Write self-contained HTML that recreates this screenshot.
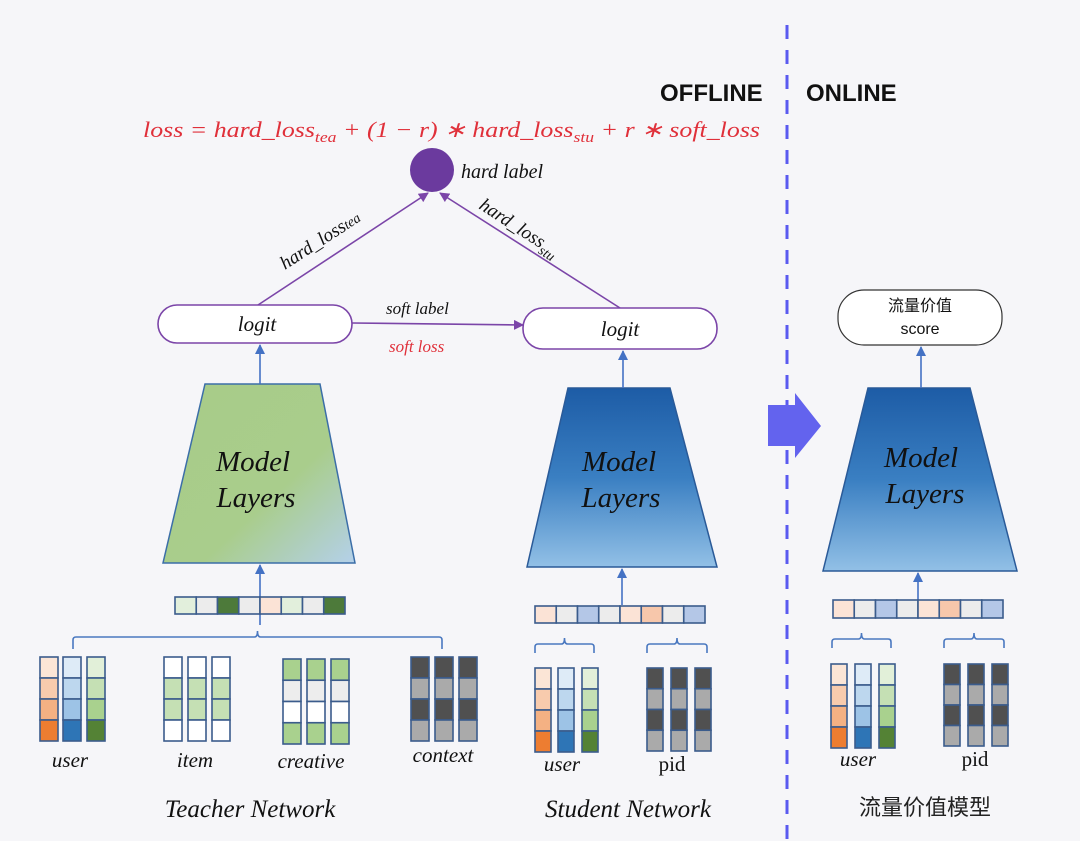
<!DOCTYPE html>
<html><head><meta charset="utf-8"><style>
html,body{margin:0;padding:0;background:#f6f6f9;}
svg{display:block}
.m{font-family:"Liberation Serif",serif;font-style:italic;}
</style></head><body>
<svg id="s" width="1080" height="841" viewBox="0 0 1080 841" xmlns="http://www.w3.org/2000/svg">
<defs>
<linearGradient id="gT" x1="0" y1="0" x2="1" y2="1">
<stop offset="0" stop-color="#a8cc88"/><stop offset="0.6" stop-color="#a9cd8c"/><stop offset="1" stop-color="#b4d0ea"/></linearGradient>
<linearGradient id="gS" x1="0" y1="0" x2="0" y2="1">
<stop offset="0" stop-color="#1d5ca6"/><stop offset="0.5" stop-color="#3a7fc2"/><stop offset="1" stop-color="#92c0e6"/></linearGradient>
<marker id="ap" markerWidth="10" markerHeight="10" refX="9" refY="5" orient="auto" markerUnits="userSpaceOnUse"><path d="M0,0 L10,5 L0,10 z" fill="#7b45a8"/></marker>
<marker id="ab" markerWidth="10" markerHeight="10" refX="9" refY="5" orient="auto" markerUnits="userSpaceOnUse"><path d="M0,0 L10,5 L0,10 z" fill="#4472c4"/></marker>
</defs>
<rect width="1080" height="841" fill="#f6f6f9"/>
<line x1="787" y1="25" x2="787" y2="841" stroke="#5a5af0" stroke-width="3" stroke-dasharray="14,11"/>
<text x="660" y="101" font-family="Liberation Sans,sans-serif" font-weight="bold" font-size="24" fill="#111">OFFLINE</text>
<text x="806" y="101" font-family="Liberation Sans,sans-serif" font-weight="bold" font-size="24" fill="#111">ONLINE</text>
<text class="m" x="143" y="137" font-size="22" fill="#e0303a" textLength="617" lengthAdjust="spacingAndGlyphs">loss = hard_loss<tspan font-size="15" dy="5">tea</tspan><tspan dy="-5"> + (1 − r) ∗ hard_loss</tspan><tspan font-size="15" dy="5">stu</tspan><tspan dy="-5"> + r ∗ soft_loss</tspan></text>
<circle cx="432" cy="170" r="22" fill="#6b3a9e"/>
<text class="m" x="461" y="178" font-size="20" fill="#111">hard label</text>
<line x1="258" y1="305" x2="428" y2="193" stroke="#7b45a8" stroke-width="1.6" marker-end="url(#ap)"/>
<line x1="620" y1="308" x2="440" y2="193" stroke="#7b45a8" stroke-width="1.6" marker-end="url(#ap)"/>
<text class="m" font-size="19" fill="#111" transform="translate(285,270) rotate(-33)">hard_loss<tspan font-size="14">tea</tspan></text>
<text class="m" font-size="19" fill="#111" transform="translate(478,208) rotate(33)">hard_loss<tspan font-size="14" dy="5">stu</tspan></text>
<rect x="158" y="305" width="194" height="38" rx="19" fill="#fff" stroke="#7b45a8" stroke-width="1.6"/>
<text class="m" x="257" y="331" font-size="21" text-anchor="middle" fill="#111">logit</text>
<rect x="523" y="308" width="194" height="41" rx="20" fill="#fff" stroke="#7b45a8" stroke-width="1.6"/>
<text class="m" x="620" y="336" font-size="21" text-anchor="middle" fill="#111">logit</text>
<line x1="352" y1="323" x2="523" y2="325" stroke="#7b45a8" stroke-width="1.6" marker-end="url(#ap)"/>
<text class="m" x="386" y="314" font-size="17" fill="#111">soft label</text>
<text class="m" x="389" y="352" font-size="17" fill="#e0303a">soft loss</text>
<rect x="838" y="290" width="164" height="55" rx="26" fill="#fff" stroke="#333" stroke-width="1.2"/>
<text x="920" y="311" font-family="Liberation Sans,'Noto Sans CJK SC',sans-serif" font-size="16" text-anchor="middle" fill="#111">流量价值</text>
<text x="920" y="334" font-family="Liberation Sans,sans-serif" font-size="16" text-anchor="middle" fill="#111">score</text>
<path d="M205,384 L320,384 L355,563 L163,563 Z" fill="url(#gT)" stroke="#3b6ea8" stroke-width="1.5"/>
<path d="M568,388 L670,388 L717,567 L527,567 Z" fill="url(#gS)" stroke="#2a5a98" stroke-width="1.5"/>
<path d="M868,388 L970,388 L1017,571 L823,571 Z" fill="url(#gS)" stroke="#2a5a98" stroke-width="1.5"/>
<g class="m" font-size="29" fill="#111" text-anchor="middle">
<text x="253" y="471">Model</text><text x="256" y="507">Layers</text>
<text x="619" y="471">Model</text><text x="621" y="507">Layers</text>
<text x="921" y="467">Model</text><text x="925" y="503">Layers</text>
</g>
<line x1="260" y1="384" x2="260" y2="345" stroke="#4472c4" stroke-width="1.6" marker-end="url(#ab)"/>
<line x1="623" y1="388" x2="623" y2="351" stroke="#4472c4" stroke-width="1.6" marker-end="url(#ab)"/>
<line x1="921" y1="388" x2="921" y2="347" stroke="#4472c4" stroke-width="1.6" marker-end="url(#ab)"/>
<line x1="260" y1="625" x2="260" y2="565" stroke="#4472c4" stroke-width="1.6" marker-end="url(#ab)"/>
<line x1="622" y1="605" x2="622" y2="569" stroke="#4472c4" stroke-width="1.6" marker-end="url(#ab)"/>
<line x1="918" y1="600" x2="918" y2="573" stroke="#4472c4" stroke-width="1.6" marker-end="url(#ab)"/>
<path d="M768,405 L795,405 L795,393 L821,426 L795,458 L795,446 L768,446 Z" fill="#6363ee"/>
<g id="dyn"></g>
<g class="m" font-size="21" fill="#111" text-anchor="middle">
<text x="70" y="767">user</text><text x="195" y="767">item</text><text x="311" y="768">creative</text><text x="443" y="762">context</text>
<text x="562" y="771">user</text><text x="858" y="766">user</text>
</g>
<g font-family="Liberation Serif,serif" font-size="21" fill="#111" text-anchor="middle">
<text x="672" y="771">pid</text><text x="975" y="766">pid</text>
</g>
<g class="m" font-size="25" fill="#111" text-anchor="middle">
<text x="250" y="817">Teacher Network</text><text x="628" y="817">Student Network</text>
</g>
<text x="925" y="815" font-family="Liberation Sans,'Noto Sans CJK SC',sans-serif" font-size="22" text-anchor="middle" fill="#222">流量价值模型</text>
</svg>
<script>
var g=document.getElementById('dyn'),NS='http://www.w3.org/2000/svg';
function r(x,y,w,h,f,sw){var e=document.createElementNS(NS,'rect');e.setAttribute('x',x);e.setAttribute('y',y);e.setAttribute('width',w);e.setAttribute('height',h);e.setAttribute('fill',f);e.setAttribute('stroke','#3b5c8c');e.setAttribute('stroke-width',sw||2);g.appendChild(e);}
function p(d){var e=document.createElementNS(NS,'path');e.setAttribute('d',d);e.setAttribute('fill','none');e.setAttribute('stroke','#4a78c0');e.setAttribute('stroke-width',1.6);g.appendChild(e);}
function bar(x,y,w,h,cs){var cw=w/cs.length;cs.forEach(function(c,i){r(x+i*cw,y,cw,h,c,1.6);});}
function col(x,y,w,h,cs){var ch=h/cs.length;cs.forEach(function(c,i){r(x,y+i*ch,w,ch,c,1.6);});}
function br(x1,x2,y,h){var m=(x1+x2)/2;p('M'+x1+','+(y+h)+' L'+x1+','+(y+3)+' Q'+x1+','+y+' '+(x1+3)+','+y+' L'+(m-3)+','+y+' Q'+m+','+y+' '+m+','+(y-6)+' Q'+m+','+y+' '+(m+3)+','+y+' L'+(x2-3)+','+y+' Q'+x2+','+y+' '+x2+','+(y+3)+' L'+x2+','+(y+h));}
var U=[['#fbe5d6','#f8cbad','#f4b183','#ed7d31'],['#deebf7','#bdd7ee','#9dc3e6','#2e75b6'],['#e2f0d9','#c5e0b4','#a9d18e','#548235']];
var I=['#ffffff','#c5e0b4','#c5e0b4','#ffffff'],C=['#a9d18e','#ededed','#ffffff','#a9d18e'],K=['#505050','#aaaaaa','#505050','#aaaaaa'];
bar(175,597,170,17,['#e2efdc','#ececec','#4d7a3a','#ececec','#fbe3d6','#e2efdc','#ececec','#4d7a3a']);
br(73,442,637,12);
[40,63,87].forEach(function(x,i){col(x,657,18,84,U[i]);});
[164,188,212].forEach(function(x){col(x,657,18,84,I);});
[283,307,331].forEach(function(x){col(x,659,18,85,C);});
[411,435,459].forEach(function(x){col(x,657,18,84,K);});
var SB=['#fbe3d6','#ececec','#b4c7e7','#ececec','#fbe3d6','#f7c7ab','#ececec','#b4c7e7'];
bar(535,606,170,17,SB);br(535,594,644,9);br(647,707,644,9);
[535,558,582].forEach(function(x,i){col(x,668,16,84,U[i]);});
[647,671,695].forEach(function(x){col(x,668,16,83,K);});
bar(833,600,170,18,SB);br(832,891,639,9);br(944,1004,639,9);
[831,855,879].forEach(function(x,i){col(x,664,16,84,U[i]);});
[944,968,992].forEach(function(x){col(x,664,16,82,K);});
</script>
</body></html>
